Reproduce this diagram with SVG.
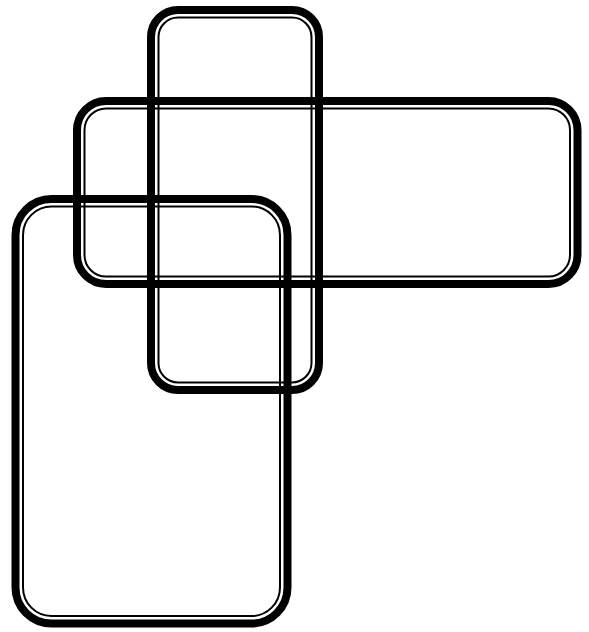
<svg xmlns="http://www.w3.org/2000/svg" width="589" height="632" viewBox="0 0 589 632">
<style>
.o{fill:none;stroke:#000;stroke-width:8}
.i{fill:none;stroke:#000;stroke-width:2}
</style>
<rect width="589" height="632" fill="#fff"/>
<g id="nodeA">
<rect class="o" x="151" y="10" width="168" height="380" rx="27"/>
<rect class="i" x="158.5" y="17.5" width="153" height="365" rx="19.5"/>
</g>
<g id="nodeB">
<rect class="o" x="77" y="101" width="500.5" height="183" rx="29"/>
<rect class="i" x="84.5" y="108.5" width="485.5" height="168" rx="21.5"/>
</g>
<g id="nodeC">
<rect class="o" x="15.5" y="199" width="272" height="424.5" rx="36"/>
<rect class="i" x="23" y="206.5" width="257" height="409.5" rx="28.5"/>
</g>
<g id="connectors"></g>
</svg>
